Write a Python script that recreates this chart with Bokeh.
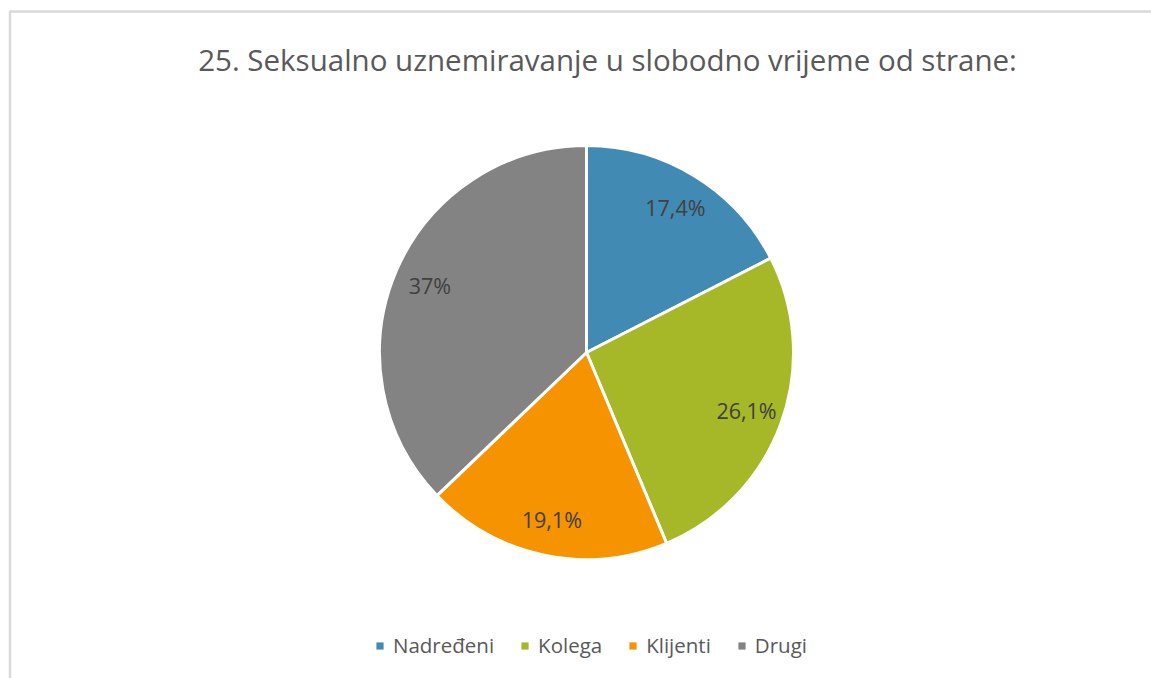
import math
from bokeh.plotting import figure
from bokeh.models import ColumnDataSource, Legend, LegendItem
from bokeh.core.properties import value
from bokeh.embed import file_html
from bokeh.resources import INLINE

# ---- data ----
categories = ["Nadređeni", "Kolega", "Klijenti", "Drugi"]
values = [17.4, 26.1, 19.1, 37.0]
colors = ["#418AB3", "#A6B727", "#F59300", "#838383"]
title_text = "25. Seksualno uznemiravanje u slobodno vrijeme od strane:"

W, H = 1151, 678
FONT = "Open Sans"

p = figure(width=W, height=H, x_range=(0, W), y_range=(0, H),
           output_backend="svg", toolbar_location=None, min_border=0)
p.axis.visible = False
p.grid.visible = False
p.outline_line_color = None
p.background_fill_color = "white"
p.border_fill_color = "white"

# light frame of the chart area
p.quad(left=[9.5], right=[W + 20], bottom=[-20], top=[667],
       fill_color=None, line_color="#D9D9D9", line_width=2.5)

# pie geometry
cx, cy, r = 586, 326, 207
total = sum(values)
starts, ends, mids = [], [], []
cum = 0.0
for v in values:
    a0 = math.pi / 2 - 2 * math.pi * cum / total
    cum += v
    a1 = math.pi / 2 - 2 * math.pi * cum / total
    starts.append(a0)
    ends.append(a1)
    mids.append((a0 + a1) / 2)

labels = [f"{v:g}".replace(".", ",") + "%" for v in values]
lr = 0.823 * r
src = ColumnDataSource(dict(
    cat=categories, start=starts, end=ends, color=colors, label=labels,
    lx=[cx + lr * math.cos(m) for m in mids],
    ly=[cy + lr * math.sin(m) for m in mids] ,
))

p.wedge(x=cx, y=cy, radius=r, start_angle="start", end_angle="end",
        direction="clock", fill_color="color", line_color="white",
        line_width=3, source=src)

p.text(x="lx", y="ly", text="label", source=src, text_align="center",
       text_baseline="middle", text_color="#404040",
       text_font=value(FONT), text_font_size="21.5px")

# title
p.text(x=[607], y=[619], text=[title_text], text_align="center",
       text_baseline="alphabetic", text_color="#595959",
       text_font=value(FONT), text_font_size="29.5px")

# legend swatches: zero-size rects from the same source, one item per index
swatch = p.rect(x=cx, y=cy, width=0, height=0, fill_color="color",
                line_color=None, source=src)
items = [LegendItem(label=c, renderers=[swatch], index=i)
         for i, c in enumerate(categories)]

legend = Legend(items=items, orientation="horizontal", location=(375, 19),
                glyph_width=9, glyph_height=9, label_standoff=9, spacing=26,
                padding=0, margin=0, border_line_color=None,
                background_fill_alpha=0,
                label_text_font=FONT, label_text_font_size="20.5px",
                label_text_color="#595959")
p.add_layout(legend, "center")

open("out.html", "w").write(file_html(p, INLINE))
